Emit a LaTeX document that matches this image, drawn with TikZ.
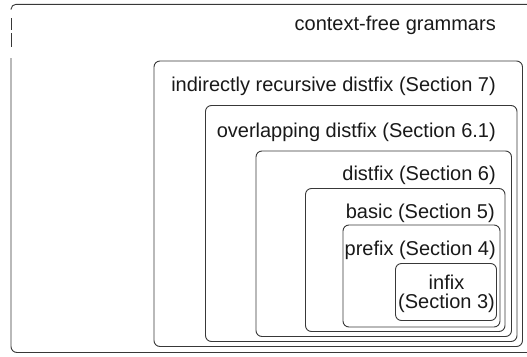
\documentclass[tikz,border=0pt]{standalone}
\usepackage{fontspec}
\setmainfont{Liberation Sans}
\begin{document}
\begin{tikzpicture}[x=1pt,y=-1pt,
  box/.style={draw=black!78,line width=0.9pt,rounded corners=6pt},
  lbl/.style={anchor=base east,inner sep=0pt,text=black!90,font=\fontsize{20}{24}\selectfont},
  lblc/.style={anchor=base,inner sep=0pt,text=black!90,font=\fontsize{20}{24}\selectfont}]
\useasboundingbox (0,0) rectangle (527,356);
\clip (0,0) rectangle (527,356);
% outer box (context-free grammars), right edge outside the picture
\draw[box,rounded corners=5pt] (11,9.5) -- (11,4.3) -- (540,4.3);
\draw[box,rounded corners=0pt] (11,18) -- (11,30);
\draw[box,rounded corners=0pt] (11,33) -- (11,47);
\draw[box] (11,58) -- (11,352.5) -- (540,352.5);
% nested boxes
\draw[box] (154,61) rectangle (522.5,346.5);
\draw[box] (205.5,105.5) rectangle (517,341.5);
\draw[box] (256,151) rectangle (511.5,336.5);
\draw[box] (305.5,188.5) rectangle (505,331.5);
\draw[box] (343,225) rectangle (500,327);
\draw[box] (395.5,263.5) rectangle (496.5,320.5);
% labels
\node[lbl] (cfg) at (496,30) {context-free grammars};
\node[lbl] (ird) at (496,91) {indirectly recursive distfix (Section 7)};
\node[lbl] (ovl) at (496,137) {overlapping distfix (Section 6.1)};
\node[lbl] (dfx) at (496,180) {distfix (Section 6)};
\node[lbl] (bas) at (495,218) {basic (Section 5)};
\node[lbl] (pre) at (496,255) {prefix (Section 4)};
\node[lblc] (inf1) at (446.5,289) {infix};
\node[lblc] (inf2) at (446.5,308) {(Section 3)};
\end{tikzpicture}
\end{document}
